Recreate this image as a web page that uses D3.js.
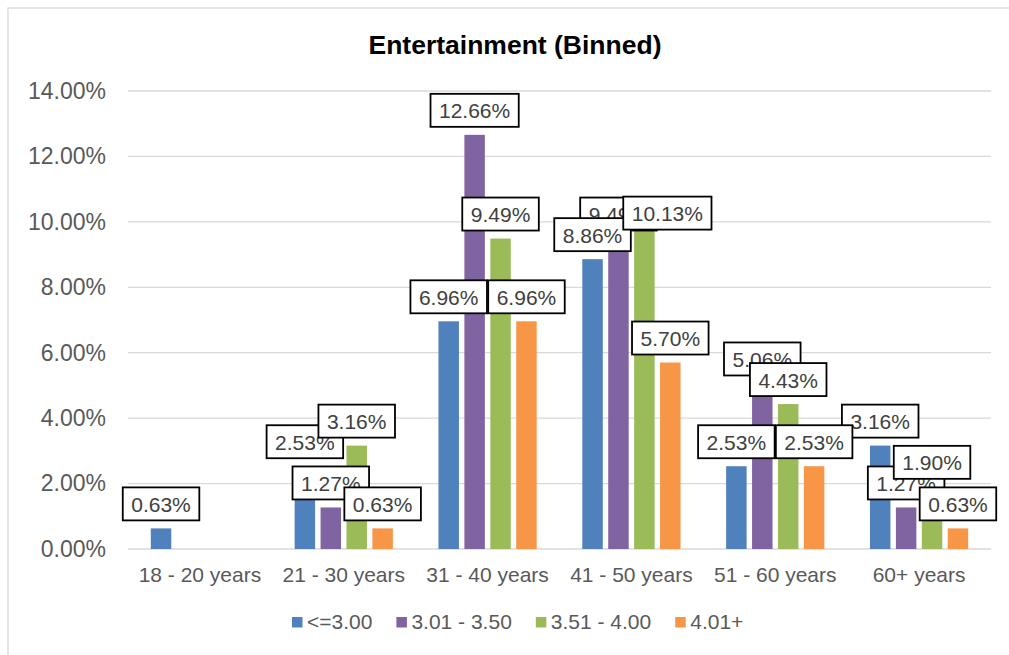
<!DOCTYPE html>
<html>
<head>
<meta charset="utf-8">
<script src="https://cdn.jsdelivr.net/npm/d3@7"></script>
<style>
  html, body { margin: 0; padding: 0; background: #fff; }
  svg { display: block; font-family: "Liberation Sans", Arial, sans-serif; }
</style>
</head>
<body>
<svg id="chart" width="1009" height="655"></svg>
<script>
// Age groups along the x axis
const categories = ["18 - 20 years", "21 - 30 years", "31 - 40 years", "41 - 50 years", "51 - 60 years", "60+ years"];
// Rating bins (series)
const seriesNames = ["<=3.00", "3.01 - 3.50", "3.51 - 4.00", "4.01+"];
const seriesColors = ["#4F81BD", "#8064A2", "#9BBB59", "#F79646"];
// Share of respondents (%) per age group; null = no respondents
const valuesUpTo300 = [0.63, 2.53, 6.96, 8.86, 2.53, 3.16];
const values301to350 = [null, 1.27, 12.66, 9.49, 5.06, 1.27];
const values351to400 = [null, 3.16, 9.49, 10.13, 4.43, 1.90];
const values401plus = [null, 0.63, 6.96, 5.70, 2.53, 0.63];
// Y axis ticks (%)
const yTicks = [0, 2, 4, 6, 8, 10, 12, 14];
// Stacking order of the value labels (later ones are drawn on top)
const labelOrder = [1, 0, 2, 3];

const seriesValues = [valuesUpTo300, values301to350, values351to400, values401plus];

const svg = d3.select("#chart");
const margin = { left: 128, right: 1009 - 991, top: 91, bottom: 655 - 549 };
const width = 1009, height = 655;

// Chart frame
svg.append("rect")
  .attr("x", 8).attr("y", 8)
  .attr("width", 1022 - 8).attr("height", 680)
  .attr("fill", "#fff").attr("stroke", "#d9d9d9").attr("stroke-width", 1.3);

// Title
svg.append("text")
  .attr("x", 515).attr("y", 54)
  .attr("text-anchor", "middle")
  .attr("font-size", 25).attr("font-weight", "bold").attr("fill", "#000")
  .attr("textLength", 293).attr("lengthAdjust", "spacingAndGlyphs")
  .text("Entertainment (Binned)");

const x0 = d3.scaleBand()
  .domain(categories)
  .range([margin.left, width - margin.right])
  .padding(0);

const innerPad = 22.8;
const x1 = d3.scaleBand()
  .domain(d3.range(seriesNames.length))
  .range([innerPad, x0.bandwidth() - innerPad])
  .paddingInner(0.21);

const y = d3.scaleLinear()
  .domain([0, 14])
  .range([height - margin.bottom, margin.top]);

// Gridlines
svg.append("g")
  .selectAll("line")
  .data(yTicks)
  .join("line")
  .attr("x1", margin.left).attr("x2", width - margin.right)
  .attr("y1", d => y(d)).attr("y2", d => y(d))
  .attr("stroke", "#d9d9d9").attr("stroke-width", 1.3);

// Y axis labels
const yAxis = d3.axisLeft(y)
  .tickValues(yTicks)
  .tickSize(0)
  .tickPadding(0)
  .tickFormat(d => d.toFixed(2) + "%");
const yg = svg.append("g")
  .attr("transform", `translate(${margin.left - 22},0)`)
  .call(yAxis);
yg.select(".domain").remove();
yg.selectAll("text")
  .attr("font-size", 23).attr("fill", "#595959")
  .attr("font-family", "'Liberation Sans', Arial, sans-serif");

// X axis labels
const xAxis = d3.axisBottom(x0).tickSize(0).tickPadding(0);
const xg = svg.append("g")
  .attr("transform", `translate(0,${y(0)})`)
  .call(xAxis);
xg.select(".domain").remove();
xg.selectAll("text")
  .attr("dy", null)
  .attr("y", 33)
  .attr("font-size", 21).attr("fill", "#595959")
  .attr("font-family", "'Liberation Sans', Arial, sans-serif");

// Bars
const barData = [];
seriesValues.forEach((vals, si) => {
  vals.forEach((v, ci) => {
    if (v != null) barData.push({ si, ci, v });
  });
});

svg.append("g")
  .selectAll("rect")
  .data(barData)
  .join("rect")
  .attr("x", d => x0(categories[d.ci]) + x1(d.si))
  .attr("width", x1.bandwidth())
  .attr("y", d => y(d.v))
  .attr("height", d => y(0) - y(d.v))
  .attr("fill", d => seriesColors[d.si]);

// Value labels in boxes; the 41-50 / 3.51-4.00 label is pushed aside
// (dx, dy in px) so it sits next to its neighbour
function labelShift(d) {
  if (d.ci === 3 && d.si === 2) return [23, 20];
  return [0, 0];
}

const labelLayer = svg.append("g");
labelOrder.forEach(si => {
  barData.filter(d => d.si === si).forEach(d => {
    const [dx, dy] = labelShift(d);
    const cx = x0(categories[d.ci]) + x1(d.si) + x1.bandwidth() / 2 + dx;
    const boxH = 33;
    const boxBottom = y(d.v) - 8 + dy;
    const g = labelLayer.append("g");
    const rect = g.append("rect");
    const t = g.append("text")
      .attr("x", cx)
      .attr("y", boxBottom - boxH + 24.5)
      .attr("text-anchor", "middle")
      .attr("font-size", 21).attr("fill", "#404040")
      .text(d.v.toFixed(2) + "%");
    const w = t.node().getComputedTextLength() + 17;
    rect.attr("x", cx - w / 2).attr("y", boxBottom - boxH)
      .attr("width", w).attr("height", boxH)
      .attr("fill", "#fff").attr("stroke", "#000").attr("stroke-width", 1.8);
  });
});

// Legend
const legend = svg.append("g");
let lx = 292;
const ly = 617;
seriesNames.forEach((name, i) => {
  legend.append("rect")
    .attr("x", lx).attr("y", ly)
    .attr("width", 10.5).attr("height", 10.5)
    .attr("fill", seriesColors[i]);
  const t = legend.append("text")
    .attr("x", lx + 15).attr("y", ly + 11.5)
    .attr("font-size", 21).attr("fill", "#595959")
    .text(name);
  lx += 15 + t.node().getComputedTextLength() + 24;
});
</script>
</body>
</html>
